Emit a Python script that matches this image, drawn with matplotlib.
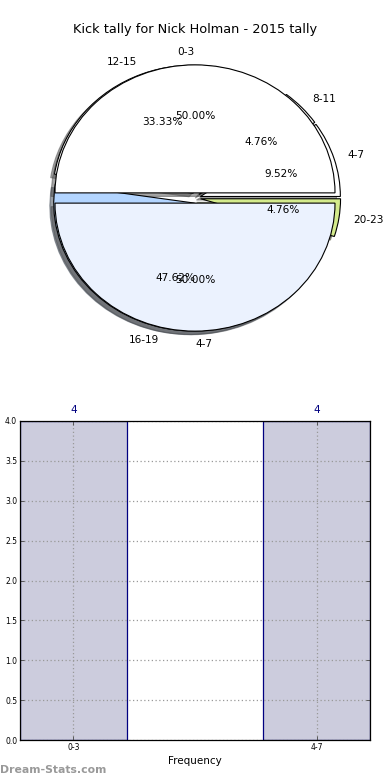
import matplotlib
matplotlib.use("Agg")
import matplotlib.pyplot as plt
import numpy as np

# Data
title = "Kick tally for Nick Holman - 2015 tally"
pie1_labels = ['4-7', '8-11', '12-15', '16-19', '20-23']
pie1_counts = [2, 1, 7, 10, 1]
pie1_colors = ['#ffffff', '#ffffff', '#ffffff', '#b3d5ff', '#d4eb8c']
pie2_labels = ['0-3', '4-7']
pie2_counts = [4, 4]
pie2_colors = ['#ffffff', '#ebf2fe']
bar_labels = ['0-3', '4-7']
bar_values = [4, 4]

fig = plt.figure(figsize=(3.9, 7.8), dpi=100)
fig.patch.set_facecolor('white')

# Pie axes
ax1 = fig.add_axes([20/390, 1 - 358/780, 350/390, 320/780])
fs = 7.6
for labels, counts, colors in [(pie1_labels, pie1_counts, pie1_colors),
                               (pie2_labels, pie2_counts, pie2_colors)]:
    wedges, texts, autotexts = ax1.pie(
        counts, labels=labels, colors=colors, autopct='%1.2f%%',
        explode=[0.04] * len(counts), shadow=True, startangle=0,
        wedgeprops=dict(edgecolor='black', linewidth=0.8),
        textprops=dict(fontsize=fs))
ax1.set_aspect('auto')
ax1.set_xlim(-1.25, 1.25)
ax1.set_ylim(-1.25, 1.25)
ax1.axis('off')
fig.text(0.5, 1 - 30/780, title, ha='center', va='center', fontsize=9.3)

# Bar axes
ax2 = fig.add_axes([20/390, 1 - 740/780, 350/390, 319/780])
x = np.arange(len(bar_values))
w = 0.44
ax2.bar(x, bar_values, width=w, color='#ccccdd', edgecolor='#000080', linewidth=0.9, zorder=2)
ax2.set_xlim(-w/2, len(bar_values) - 1 + w/2)
ax2.set_ylim(0, 4)
ax2.set_yticks(np.arange(0, 4.01, 0.5))
ax2.set_yticklabels([f"{v:.1f}" for v in np.arange(0, 4.01, 0.5)], fontsize=5.5)
ax2.set_xticks(x)
ax2.set_xticklabels(bar_labels, fontsize=5.5)
ax2.tick_params(direction='in', top=True, right=True, length=3, width=0.6, pad=2, colors='#444444', labelcolor='black')
ax2.grid(True, linestyle=(0, (1, 2)), color='#999999', linewidth=0.9, zorder=3)
ax2.set_axisbelow(False)
for xi, v in zip(x, bar_values):
    ax2.annotate(str(v), (xi, v), xytext=(0, 4), textcoords='offset points',
                 ha='center', va='bottom', fontsize=7.5, color='#000080')
ax2.set_xlabel('Frequency', fontsize=7.5, labelpad=3)
for s in ax2.spines.values():
    s.set_linewidth(0.9)
    s.set_zorder(5)

fig.text(0.0, 1 - 770/780, 'Dream-Stats.com', ha='left', va='center', fontsize=7.8,
         color='#999999', fontweight='bold')

fig.savefig('out.png', dpi=100)
